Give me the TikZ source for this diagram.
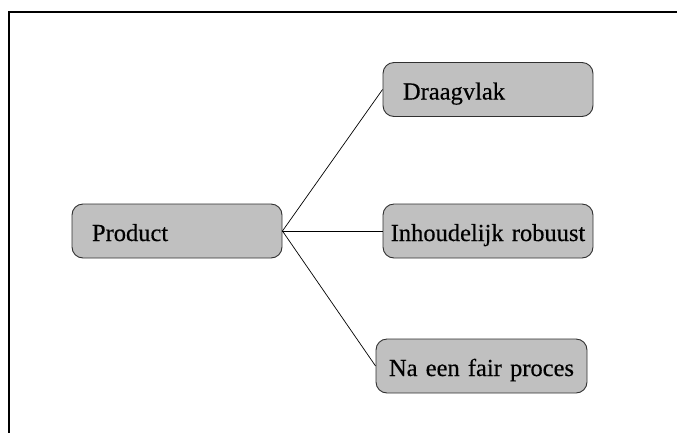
\documentclass[tikz,border=0pt]{standalone}
\usepackage{fontspec}
\setmainfont{Liberation Serif}[FakeBold=0.4]
\definecolor{boxfill}{HTML}{C0C0C0}
\definecolor{boxline}{HTML}{303030}
\begin{document}
\begin{tikzpicture}[x=1pt,y=-1pt,
  box/.style={draw=boxline, line width=0.9pt, fill=boxfill, rounded corners=11pt,
    minimum width=210pt, minimum height=54pt, inner ysep=0pt,
    text height=20pt, text depth=0pt,
    font=\fontsize{24.5}{28}\selectfont},
  conn/.style={draw=black, line width=0.7pt},
  frameline/.style={draw=black, line width=2pt}]
\useasboundingbox (0,0) rectangle (677,432);
\coordinate (fbl) at (9,433);
\coordinate (ftl) at (9,12);
\coordinate (ftr) at (678,12);
\draw[frameline] (fbl) -- (ftl) -- (ftr);
\node[box, inner xsep=20pt, text width=170pt, align=left] (prod) at (177,231) {Product};
\node[box, inner xsep=20pt, text width=170pt, align=left] (drag) at (488,89.5) {Draagvlak};
\node[box, inner xsep=4pt, text width=202pt, align=center] (inh) at (488,231) {\mbox{Inhoudelijk robuust}};
\node[box, inner xsep=4pt, text width=203pt, align=center] (na) at (481.5,366) {\mbox{Na een fair proces}};
\draw[conn] (prod.east) -- (drag.west);
\draw[conn] (prod.east) -- (inh.west);
\draw[conn] (prod.east) -- (na.west);
\end{tikzpicture}
\end{document}
